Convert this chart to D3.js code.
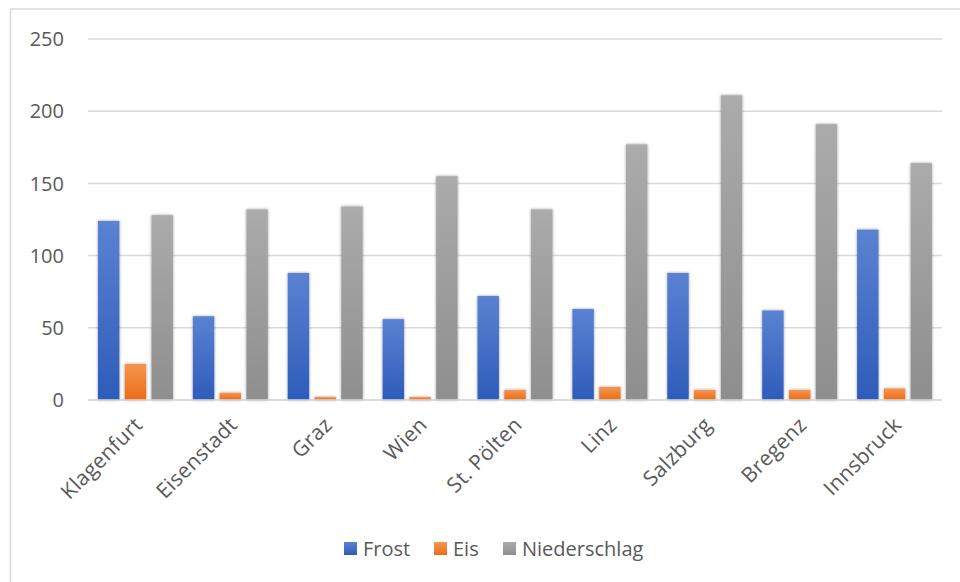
<!DOCTYPE html>
<html>
<head>
<meta charset="utf-8">
<script src="https://cdn.jsdelivr.net/npm/d3@7"></script>
<style>
  body { margin: 0; background: #fff; }
  text { font-family: "Open Sans", "Noto Sans", sans-serif; fill: #595959; }
</style>
</head>
<body>
<script>
// city names along the x axis
var cities = ["Klagenfurt", "Eisenstadt", "Graz", "Wien", "St. Pölten", "Linz", "Salzburg", "Bregenz", "Innsbruck"];

// series values
var frost = [124, 58, 88, 56, 72, 63, 88, 62, 118];
var eis = [25, 5, 2, 2, 7, 9, 7, 7, 8];
var niederschlag = [128, 132, 134, 155, 132, 177, 211, 191, 164];

var seriesNames = ["Frost", "Eis", "Niederschlag"];
var yTicks = [0, 50, 100, 150, 200, 250];

window.onload = drawChart();

function drawChart(){

    var width = 960,
        height = 582;

    var svg = d3.select("body")
        .append("svg")
        .attr("width", width)
        .attr("height", height);

    var defs = svg.append("defs");

    //gradients, light at the top, darker at the bottom
    var grads = [
        {id: "gFrost", top: "#5b82d2", bottom: "#2d5cb9"},
        {id: "gEis", top: "#f49552", bottom: "#ea6d16"},
        {id: "gNied", top: "#ababab", bottom: "#8e8e8e"}
    ];
    grads.forEach(function(g){
        var lg = defs.append("linearGradient")
            .attr("id", g.id)
            .attr("x1", 0).attr("y1", 0).attr("x2", 0).attr("y2", 1);
        lg.append("stop").attr("offset", "0%").attr("stop-color", g.top);
        lg.append("stop").attr("offset", "100%").attr("stop-color", g.bottom);
    });

    //soft shadow round the bars
    var shadow = defs.append("filter")
        .attr("id", "shadow")
        .attr("x", "-30%").attr("y", "-10%")
        .attr("width", "160%").attr("height", "120%");
    shadow.append("feGaussianBlur")
        .attr("in", "SourceAlpha")
        .attr("stdDeviation", 1.5)
        .attr("result", "blur");
    shadow.append("feComponentTransfer")
        .attr("in", "blur")
        .attr("result", "blurA")
        .append("feFuncA").attr("type", "linear").attr("slope", 0.4);
    var merge = shadow.append("feMerge");
    merge.append("feMergeNode").attr("in", "blurA");
    merge.append("feMergeNode").attr("in", "SourceGraphic");

    //chart frame
    svg.append("rect")
        .attr("x", 10.5)
        .attr("y", 9)
        .attr("width", 960)
        .attr("height", 600)
        .attr("fill", "none")
        .attr("stroke", "#d9d9d9")
        .attr("stroke-width", 1.5);

    var x = d3.scaleBand()
        .domain(cities)
        .range([88, 942])
        .paddingInner(0.21)
        .paddingOuter(0.105);

    var x1 = d3.scaleBand()
        .domain(seriesNames)
        .range([0, x.bandwidth()])
        .paddingInner(0.2);

    var y = d3.scaleLinear()
        .domain([0, 250])
        .range([400, 39]);

    //gridlines
    svg.append("g")
        .selectAll("line")
        .data(yTicks)
        .enter()
        .append("line")
        .attr("x1", 88)
        .attr("x2", 942)
        .attr("y1", function(d){ return y(d); })
        .attr("y2", function(d){ return y(d); })
        .attr("stroke", "#d9d9d9")
        .attr("stroke-width", 1.5);

    //y tick labels
    svg.append("g")
        .selectAll("text")
        .data(yTicks)
        .enter()
        .append("text")
        .attr("x", 64)
        .attr("y", function(d){ return y(d); })
        .attr("dy", "0.36em")
        .attr("text-anchor", "end")
        .style("font-size", "20px")
        .text(function(d){ return d; });

    var series = [
        {name: "Frost", values: frost, fill: "url(#gFrost)"},
        {name: "Eis", values: eis, fill: "url(#gEis)"},
        {name: "Niederschlag", values: niederschlag, fill: "url(#gNied)"}
    ];

    var bars = svg.append("g").attr("filter", "url(#shadow)");
    series.forEach(function(s){
        bars.selectAll(".bar-" + s.name)
            .data(s.values)
            .enter()
            .append("rect")
            .attr("class", "bar-" + s.name)
            .attr("x", function(d, i){ return x(cities[i]) + x1(s.name); })
            .attr("width", x1.bandwidth())
            .attr("y", function(d){ return y(d); })
            .attr("height", function(d){ return y(0) - y(d); })
            .attr("fill", s.fill);
    });

    //x axis line redrawn over bars
    svg.append("line")
        .attr("x1", 88).attr("x2", 942)
        .attr("y1", y(0)).attr("y2", y(0))
        .attr("stroke", "#d9d9d9")
        .attr("stroke-width", 1.5);

    //rotated city labels
    svg.append("g")
        .selectAll("text")
        .data(cities)
        .enter()
        .append("text")
        .attr("transform", function(d){
            return "translate(" + (x(d) + x.bandwidth() / 2 + 3) + ",421) rotate(-45)";
        })
        .attr("text-anchor", "end")
        .attr("dy", "0.35em")
        .style("font-size", "21px")
        .style("letter-spacing", "0.3px")
        .text(function(d){ return d; });

    //legend
    var legendX = [344, 434, 503];
    var legend = svg.append("g")
        .selectAll("g")
        .data(series)
        .enter()
        .append("g")
        .attr("transform", function(d, i){ return "translate(" + legendX[i] + ",542)"; });
    legend.append("rect")
        .attr("width", 13)
        .attr("height", 13)
        .attr("fill", function(d){ return d.fill; });
    legend.append("text")
        .attr("x", 19)
        .attr("y", 7)
        .attr("dy", "0.36em")
        .style("font-size", "20px")
        .text(function(d){ return d.name; });
};
</script>
</body>
</html>
